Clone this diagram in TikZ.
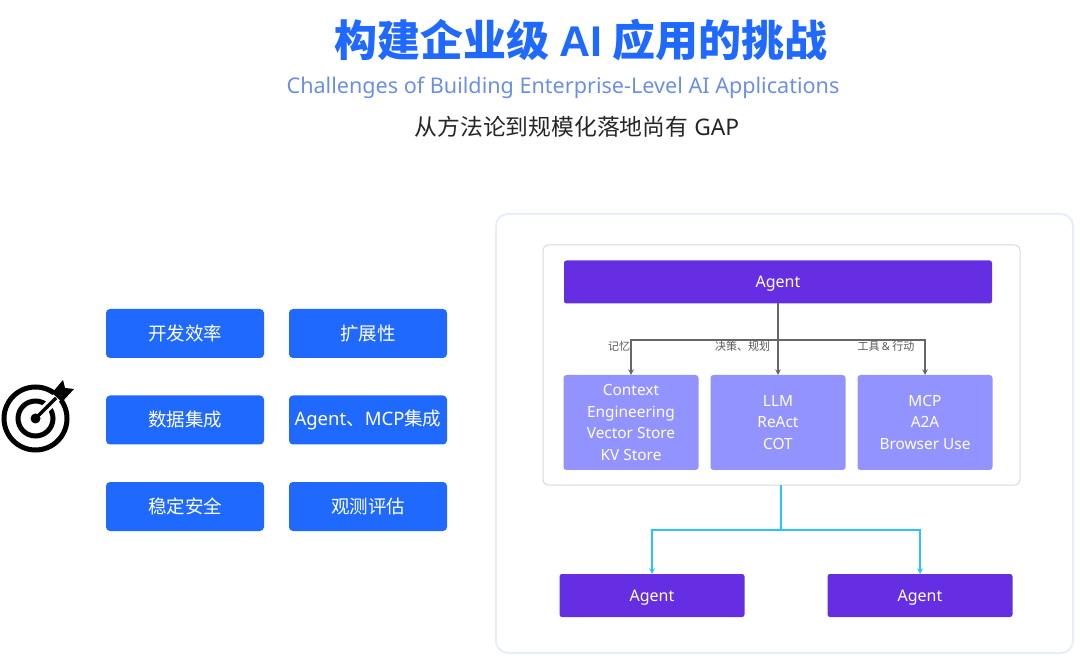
\documentclass[tikz,border=0pt]{standalone}
\usepackage{fontspec}
\setmainfont{Noto Sans}
\newfontfamily\cjk{Noto Sans CJK SC}
\newfontfamily\latinbold{Liberation Sans}
\usetikzlibrary{positioning,calc}
\definecolor{mainblue}{HTML}{1F69FF}
\definecolor{subblue}{HTML}{6C8FE6}
\definecolor{agentpurple}{HTML}{652EE2}
\definecolor{toolviolet}{HTML}{9393FF}
\definecolor{linkcyan}{HTML}{29C5F6}
\definecolor{panelline}{HTML}{E8EDFB}
\begin{document}
\begin{tikzpicture}[
  x=1pt, y=-1pt,
  every node/.style={inner sep=0pt, outer sep=0pt},
  goalbox/.style={rectangle, rounded corners=4pt, fill=mainblue, text=white,
                  minimum width=158pt, minimum height=49pt, align=center,
                  font=\fontsize{18.5}{22}\selectfont},
  agentbox/.style={rectangle, rounded corners=2.5pt, fill=agentpurple, text=white,
                   minimum height=43pt, align=center, text height=12pt, text depth=1pt,
                   font=\fontsize{16}{20}\selectfont},
  toolbox/.style={rectangle, rounded corners=3pt, fill=toolviolet, text=white,
                  minimum width=135pt, minimum height=95pt, align=center,
                  execute at begin node={\vspace*{2.4pt}},
                  font=\fontsize{15.4}{21.5}\selectfont},
  tag/.style={text=black!65, font=\fontsize{11}{12}\cjk},
  ar/.style={->, >=stealth, line width=1.5pt, draw=black!60},
  link/.style={->, >=stealth, line width=1.5pt, draw=linkcyan}
]
  \useasboundingbox (0,0) rectangle (1080,660);
  % heading
  \node[text=mainblue, font=\fontsize{43}{48}\cjk\bfseries] (title) at (581,40)
    {构建企业级 {\latinbold\bfseries AI} 应用的挑战};
  \node[text=subblue, font=\fontsize{21.6}{26}\selectfont] (subtitle) at (563,88)
    {Challenges of Building Enterprise-Level AI Applications};
  \node[text=black!85, font=\fontsize{22.8}{26}\selectfont] (gap) at (577,127)
    {{\cjk 从方法论到规模化落地尚有} GAP};

  % left column
  \node[goalbox] (devel) at (185,333.5) {\cjk 开发效率};
  \node[goalbox, right=25pt of devel] (scale) {\cjk 扩展性};
  \node[goalbox, below=37.5pt of devel] (data) {\cjk 数据集成};
  \node[goalbox, right=25pt of data] (integ) {Agent{\cjk 、}MCP{\cjk 集成}};
  \node[goalbox, below=37.5pt of data] (safe) {\cjk 稳定安全};
  \node[goalbox, right=25pt of safe] (observe) {\cjk 观测评估};

  % target icon
  \draw[line width=5pt] (35.5,418.5) circle (31.5);
  \draw[line width=5pt] (35.5,418.5) circle (17.5);
  \draw[white, line width=9pt] (35.5,418.5) -- (58,396);
  \fill (35.5,418.5) circle (5);
  \draw[line width=3.2pt] (35.5,418.5) -- (56,398);
  \fill (52,393) -- (63,380) -- (65,388) -- (74,389) -- (62,402) -- cycle;

  % right panel
  \node[draw=panelline, line width=2pt, fill=white, rounded corners=12pt,
        minimum width=577pt, minimum height=439pt] (panel) at (784.5,433.5) {};
  \node[draw=black!15, line width=1pt, fill=white, rounded corners=5pt,
        minimum width=477pt, minimum height=240pt] (group) at (781.5,365) {};
  \node[agentbox, minimum width=428pt] (agent) at (778,282) {Agent};
  \node[toolbox] (llm) at (778,422.5) {LLM\\ReAct\\COT};
  \node[toolbox, left=12pt of llm] (context) {Context\\Engineering\\Vector Store\\KV Store};
  \node[toolbox, right=12pt of llm] (mcp) {MCP\\A2A\\Browser Use};
  \node[agentbox, minimum width=185pt] (agentl) at (652,595.5) {Agent};
  \node[agentbox, minimum width=185pt] (agentr) at (920,595.5) {Agent};

  % connectors
  \coordinate (hub) at (778,340);
  \coordinate (fork) at (781,530);
  \draw[ar] (agent.south) -- (llm.north);
  \draw[ar] (hub) -| (context.north);
  \draw[ar] (hub) -| (mcp.north);
  \draw[link, -] (group.south -| fork) -- (fork);
  \draw[link] (fork) -| (agentl.north);
  \draw[link] (fork) -| (agentr.north);

  % connector tags
  \node[tag] (tagmem) at (619,346.5) {记忆};
  \node[tag] (tagplan) at (742.5,346.5) {决策、规划};
  \node[tag] (tagtool) at (886,346.5) {工具 {\fontspec{Noto Sans}\&} 行动};
\end{tikzpicture}
\end{document}
